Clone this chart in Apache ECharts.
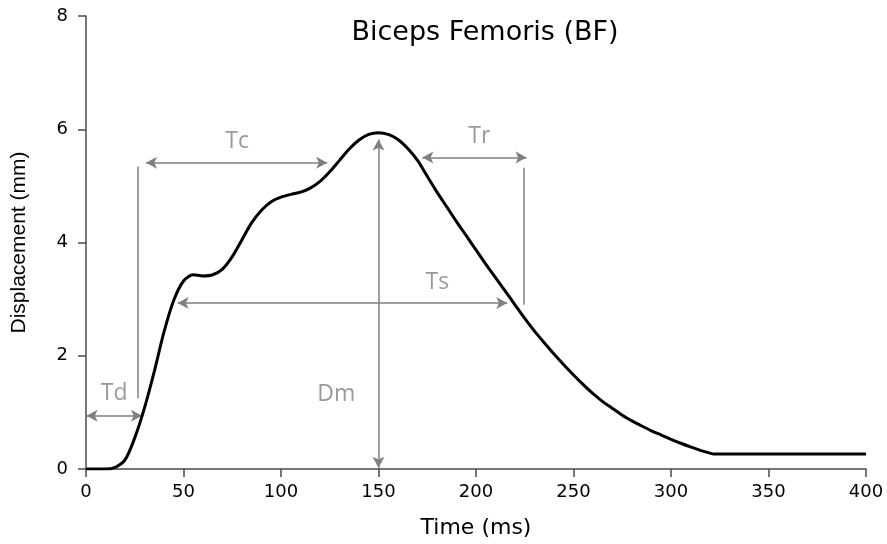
<!DOCTYPE html>
<html>
<head>
<meta charset="utf-8">
<script src="https://cdn.jsdelivr.net/npm/echarts@6/dist/echarts.min.js"></script>
<style>html,body{margin:0;padding:0;background:#fff}#c{width:887px;height:544px}</style>
</head>
<body>
<div id="c"></div>
<script>
// ---- data ----
var timeMs = [0, 5, 10, 15, 20, 25, 30, 35, 40, 45, 50, 55, 60, 65, 70, 75, 80, 85, 90, 95, 100, 105, 110, 115, 120, 125, 130, 135, 140, 145, 150, 155, 160, 165, 170, 175, 180, 185, 190, 195, 200, 205, 210, 215, 220, 225, 230, 235, 240, 245, 250, 255, 260, 265, 270, 275, 280, 285, 290, 295, 300, 305, 310, 315, 320, 322, 350, 375, 400];
var displacementMm = [0, 0, 0, 0.03, 0.16, 0.55, 1.08, 1.72, 2.42, 2.98, 3.32, 3.43, 3.41, 3.43, 3.53, 3.75, 4.05, 4.35, 4.57, 4.72, 4.8, 4.85, 4.89, 4.96, 5.08, 5.25, 5.45, 5.65, 5.81, 5.91, 5.94, 5.91, 5.82, 5.66, 5.45, 5.17, 4.89, 4.63, 4.37, 4.12, 3.87, 3.62, 3.38, 3.14, 2.9, 2.66, 2.435, 2.23, 2.03, 1.84, 1.66, 1.49, 1.33, 1.19, 1.07, 0.95, 0.85, 0.76, 0.675, 0.6, 0.525, 0.455, 0.39, 0.33, 0.28, 0.265, 0.265, 0.265, 0.265];
var xTicks = [0, 50, 100, 150, 200, 250, 300, 350, 400];
var yTicks = [0, 2, 4, 6, 8];
var titleText = 'Biceps Femoris (BF)';
var xName = 'Time (ms)';
var yName = 'Displacement (mm)';

// annotation segments in data units: [x1, y1, x2, y2]
var doubleArrows = [
  [0.3, 0.94, 28.7, 0.94],      // Td
  [30.8, 5.41, 123.7, 5.41],    // Tc
  [47, 2.93, 216, 2.93],        // Ts
  [172.5, 5.5, 225.9, 5.5],     // Tr
  [150, 5.82, 150, 0.02]        // Dm
];
var guideLines = [
  [26.7, 1.25, 26.7, 5.34],
  [224.3, 2.9, 224.3, 5.32]
];
var annotationLabels = [
  [14.4, 1.34, 'Td'],
  [77.5, 5.78, 'Tc'],
  [128.3, 1.31, 'Dm'],
  [180.2, 3.29, 'Ts'],
  [201.7, 5.87, 'Tr']
];

// ---- chart ----
var chart = echarts.init(document.getElementById('c'), null, {renderer: 'canvas'});
var grey = '#7f7f7f';
var axisColor = '#4a4a4a';

function seg(s) { return [{coord: [s[0], s[1]]}, {coord: [s[2], s[3]]}]; }

var option = {
  animation: false,
  backgroundColor: '#fff',
  grid: {left: 86, right: 21, top: 16, bottom: 75},
  graphic: [{
    type: 'text', x: 485, y: 33,
    style: {text: titleText, align: 'center', verticalAlign: 'middle',
      font: '27px "DejaVu Sans"', fill: '#000'}
  }],
  xAxis: {
    type: 'value', min: xTicks[0], max: xTicks[xTicks.length - 1], interval: xTicks[1] - xTicks[0],
    name: xName, nameLocation: 'middle', nameGap: 48,
    nameTextStyle: {fontFamily: 'DejaVu Sans', fontSize: 22, color: '#000'},
    axisLine: {show: true, lineStyle: {color: axisColor, width: 1.5}},
    axisTick: {show: true, inside: false, length: 8, lineStyle: {color: axisColor, width: 1.5}},
    axisLabel: {margin: 14, fontFamily: 'DejaVu Sans', fontSize: 18, color: '#000'},
    splitLine: {show: false}
  },
  yAxis: {
    type: 'value', min: yTicks[0], max: yTicks[yTicks.length - 1], interval: yTicks[1] - yTicks[0],
    name: yName, nameLocation: 'middle', nameGap: 56, nameRotate: 90,
    nameTextStyle: {fontFamily: 'Liberation Sans', fontSize: 21, color: '#000'},
    axisLine: {show: true, lineStyle: {color: axisColor, width: 1.5}},
    axisTick: {show: true, inside: false, length: 8, lineStyle: {color: axisColor, width: 1.5}},
    axisLabel: {margin: 18, fontFamily: 'DejaVu Sans', fontSize: 18, color: '#000'},
    splitLine: {show: false}
  },
  series: [
    {
      type: 'line',
      data: timeMs.map(function (t, i) { return [t, displacementMm[i]]; }),
      smooth: 0.3,
      showSymbol: false,
      symbol: 'none',
      lineStyle: {color: '#000', width: 3},
      z: 5,
      markLine: {
        silent: true,
        symbol: ['arrow', 'arrow'],
        symbolSize: [9, 11],
        label: {show: false},
        lineStyle: {color: grey, width: 1.5, type: 'solid'},
        itemStyle: {color: grey},
        data: doubleArrows.map(seg).concat(guideLines.map(function (s) {
          var p = seg(s);
          p[0].symbol = 'none'; p[1].symbol = 'none';
          return p;
        }))
      }
    },
    {
      type: 'scatter',
      symbolSize: 0,
      silent: true,
      data: annotationLabels.map(function (a) { return {value: [a[0], a[1]], name: a[2]}; }),
      label: {
        show: true, position: 'inside',
        formatter: function (p) { return p.name; },
        fontFamily: 'Open Sans', fontSize: 23, color: grey
      }
    }
  ]
};
chart.setOption(option);
</script>
</body>
</html>
